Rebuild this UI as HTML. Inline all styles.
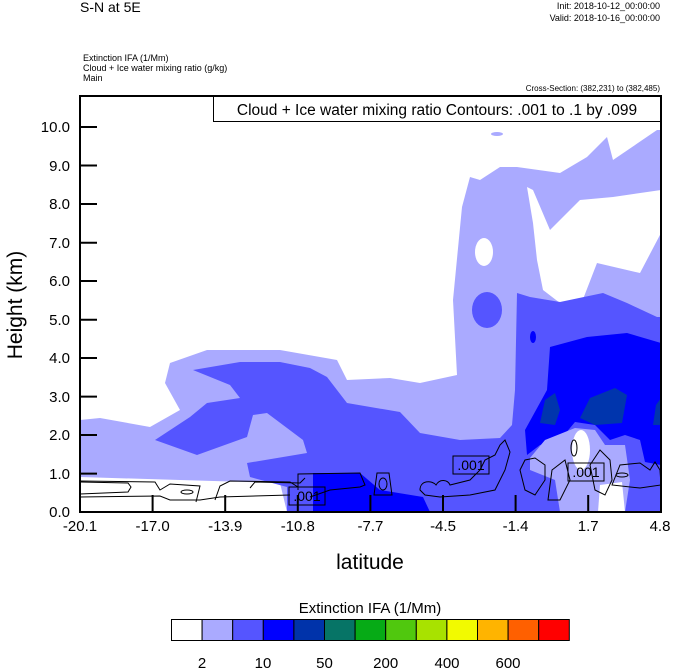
<!DOCTYPE html>
<html><head><meta charset="utf-8"><style>
body{margin:0;background:#fff;}
svg{display:block;font-family:"Liberation Sans",sans-serif;}
</style></head><body>
<svg width="674" height="668" viewBox="0 0 674 668" xmlns="http://www.w3.org/2000/svg">
<text x="80" y="12" font-size="14">S-N at 5E</text>
<text x="660" y="9" font-size="9" text-anchor="end">Init: 2018-10-12_00:00:00</text>
<text x="660" y="21" font-size="9" text-anchor="end">Valid: 2018-10-16_00:00:00</text>
<text x="83" y="61" font-size="9">Extinction IFA  (1/Mm)</text>
<text x="83" y="71" font-size="9">Cloud + Ice water mixing ratio   (g/kg)</text>
<text x="83" y="81" font-size="9">Main</text>
<text x="660" y="91" font-size="8" text-anchor="end">Cross-Section: (382,231) to (382,485)</text>

<!-- filled contours -->
<path fill="#aaaaff" d="M80,420 L100,418 L150,427 L180,410 L165,383 L170,363 L207,350 L280,350 L337,360 L347,380 L390,378 L420,383 L457,375 L453,300 L462,207 L470,177 L480,180 L500,167 L517,167 L560,173 L587,157 L607,137 L613,160 L657,130 L661,130 L661,512 L287,512 L280,483 L180,480 L80,477 Z"/>
<ellipse cx="497" cy="134" rx="6" ry="2" fill="#aaaaff"/>
<path fill="#fff" d="M527,187 L533,190 L550,230 L580,200 L613,197 L661,190 L661,233 L640,273 L597,263 L580,307 L560,303 L543,290 L537,260 L533,223 Z"/>
<ellipse cx="484" cy="252" rx="9" ry="14" fill="#fff"/>
<path fill="#5555ff" d="M193,370 L240,362 L280,362 L310,368 L327,377 L347,403 L400,412 L420,433 L460,440 L500,438 L512,425 L515,390 L517,293 L530,297 L560,302 L603,293 L627,303 L657,317 L661,317 L661,512 L287,512 L287,487 L250,477 L247,463 L307,453 L303,440 L267,413 L253,415 L247,437 L197,455 L155,440 L190,417 L207,403 L240,398 L230,385 Z"/>
<ellipse cx="487" cy="310" rx="15" ry="18" fill="#5555ff"/>
<path fill="#0000ff" d="M313,512 L313,473 L360,473 L380,490 L423,497 L430,512 Z"/>
<path fill="#0000ff" d="M547,390 L550,347 L587,337 L627,333 L661,343 L661,465 L645,462 L640,440 L625,435 L610,440 L595,425 L575,422 L560,440 L540,445 L527,455 L525,430 Z"/>
<ellipse cx="533" cy="337" rx="3" ry="6" fill="#0000ff"/>
<path fill="#0035ad" d="M540,423 L545,400 L555,393 L560,410 L555,425 Z M580,418 L590,398 L615,388 L627,395 L622,423 L595,425 Z M653,425 L656,405 L661,398 L661,425 Z"/>
<path fill="#aaaaff" d="M530,458 L545,440 L575,428 L595,430 L605,445 L625,445 L630,480 L625,512 L560,512 L555,480 L530,470 Z"/>
<ellipse cx="581" cy="450" rx="9" ry="20" fill="#fff"/>
<path fill="#fff" d="M600,485 L622,482 L625,512 L598,512 Z"/>

<!-- line contours -->
<g fill="none" stroke="#000" stroke-width="1">
<path d="M80,482 L128,483 L131,487 L128,492 L80,494 M80,497 L160,496 L170,500 L200,500 L220,497 L290,495"/>
<path d="M80,481 L155,482 L160,490 L170,484 L200,486 L196,502"/>
<ellipse cx="187" cy="492" rx="6" ry="2"/>
<path d="M215,500 L220,486 L230,481 L290,482 L298,487"/>
<path d="M250,488 L255,482 L300,483 L305,478"/>
<path d="M298,490 L298,474 L360,473 L365,485 L360,487 L330,490 L310,497"/>
<path d="M374,495 L377,473 L389,473 L392,495 Z"/>
<ellipse cx="383" cy="484" rx="4" ry="6"/>
<path d="M420,490 C420,480 432,480 436,485 C440,478 448,480 450,485 L470,480 L480,470 L485,460 L495,455 L500,445 L505,440 L510,452 L505,470 L500,480 L495,490 L470,495 L440,497 L425,495 Z"/>
<path d="M520,470 L525,460 L535,458 L545,465 L545,480 L535,495 L525,490 Z"/>
<path d="M548,500 L552,470 L565,460 L570,480 L560,500 Z"/>
<path d="M590,465 L600,450 L610,460 L612,480 L605,495 L595,490 Z"/>
<path d="M612,485 L620,465 L640,463 L650,470 L655,462 L660,470 L661,485 L640,488 Z"/>
<ellipse cx="622" cy="475" rx="6" ry="2"/>
<ellipse cx="574" cy="448" rx="3" ry="8"/>
</g>
<g font-size="14" text-anchor="middle">
<rect x="289" y="487" width="36" height="18" fill="none" stroke="#000"/>
<text x="307" y="501">.001</text>
<rect x="453" y="456" width="36" height="18" fill="none" stroke="#000"/>
<text x="471" y="470">.001</text>
<rect x="568" y="463" width="36" height="18" fill="none" stroke="#000"/>
<text x="586" y="477">.001</text>
</g>

<!-- legend box -->
<rect x="213.5" y="96.5" width="448" height="25" fill="#fff" stroke="#000"/>
<text x="437" y="115" font-size="15.5" text-anchor="middle">Cloud + Ice water mixing ratio Contours: .001 to .1 by .099</text>

<!-- frame -->
<rect x="80" y="96" width="581" height="416" fill="none" stroke="#000" stroke-width="2"/>
<g stroke="#000" stroke-width="2">
<line x1="80" y1="127" x2="97" y2="127"/><line x1="80" y1="165.5" x2="97" y2="165.5"/>
<line x1="80" y1="204" x2="97" y2="204"/><line x1="80" y1="242.7" x2="97" y2="242.7"/>
<line x1="80" y1="281" x2="97" y2="281"/><line x1="80" y1="319.7" x2="97" y2="319.7"/>
<line x1="80" y1="358" x2="97" y2="358"/><line x1="80" y1="396.6" x2="97" y2="396.6"/>
<line x1="80" y1="435" x2="97" y2="435"/><line x1="80" y1="473.6" x2="97" y2="473.6"/>
<line x1="152.6" y1="512" x2="152.6" y2="495"/><line x1="225.2" y1="512" x2="225.2" y2="495"/>
<line x1="297.8" y1="512" x2="297.8" y2="495"/><line x1="370.4" y1="512" x2="370.4" y2="495"/>
<line x1="443" y1="512" x2="443" y2="495"/><line x1="515.6" y1="512" x2="515.6" y2="495"/>
<line x1="588.2" y1="512" x2="588.2" y2="495"/>
</g>
<g font-size="15" text-anchor="end">
<text x="70" y="132">10.0</text><text x="70" y="171">9.0</text><text x="70" y="209">8.0</text>
<text x="70" y="248">7.0</text><text x="70" y="286">6.0</text><text x="70" y="325">5.0</text>
<text x="70" y="363">4.0</text><text x="70" y="402">3.0</text><text x="70" y="440">2.0</text>
<text x="70" y="479">1.0</text><text x="70" y="517">0.0</text>
</g>
<g font-size="15" text-anchor="middle">
<text x="80" y="531">-20.1</text><text x="152.6" y="531">-17.0</text><text x="225.2" y="531">-13.9</text>
<text x="297.8" y="531">-10.8</text><text x="370.4" y="531">-7.7</text><text x="443" y="531">-4.5</text>
<text x="515.6" y="531">-1.4</text><text x="588.2" y="531">1.7</text><text x="660" y="531">4.8</text>
</g>
<text x="370" y="569" font-size="21" text-anchor="middle">latitude</text>
<text transform="translate(22,305) rotate(-90)" font-size="21" text-anchor="middle">Height (km)</text>

<!-- colorbar -->
<text x="370" y="613" font-size="15" text-anchor="middle">Extinction IFA  (1/Mm)</text>
<g stroke="#000" stroke-width="1">
<rect x="171.5" y="619.5" width="30.6" height="21" fill="#ffffff"/>
<rect x="202.1" y="619.5" width="30.6" height="21" fill="#aaaaff"/>
<rect x="232.7" y="619.5" width="30.6" height="21" fill="#5555ff"/>
<rect x="263.3" y="619.5" width="30.6" height="21" fill="#0000ff"/>
<rect x="293.9" y="619.5" width="30.6" height="21" fill="#0033aa"/>
<rect x="324.5" y="619.5" width="30.6" height="21" fill="#067466"/>
<rect x="355.1" y="619.5" width="30.6" height="21" fill="#06ab16"/>
<rect x="385.7" y="619.5" width="30.6" height="21" fill="#50c80e"/>
<rect x="416.3" y="619.5" width="30.6" height="21" fill="#a8e200"/>
<rect x="446.9" y="619.5" width="30.6" height="21" fill="#f2fa00"/>
<rect x="477.5" y="619.5" width="30.6" height="21" fill="#ffb400"/>
<rect x="508.1" y="619.5" width="30.6" height="21" fill="#ff6000"/>
<rect x="538.7" y="619.5" width="30.6" height="21" fill="#ff0000"/>
</g>
<g font-size="15" text-anchor="middle">
<text x="202" y="668">2</text><text x="263" y="668">10</text><text x="324.5" y="668">50</text>
<text x="385.7" y="668">200</text><text x="447" y="668">400</text><text x="508" y="668">600</text>
</g>
</svg>
</body></html>
